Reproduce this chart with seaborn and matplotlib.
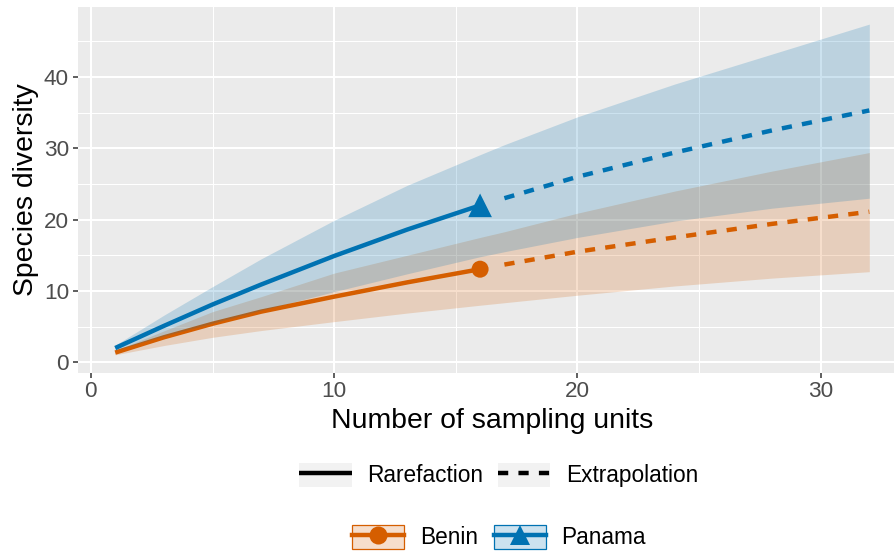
import matplotlib
matplotlib.use("Agg")
import matplotlib.pyplot as plt
import numpy as np
import pandas as pd
import seaborn as sns
from matplotlib.lines import Line2D
from matplotlib.patches import Patch
from matplotlib.legend_handler import HandlerTuple
from matplotlib.colors import to_rgba

# ---------------- data ----------------
assemblages = ["Benin", "Panama"]
methods = ["Rarefaction", "Extrapolation"]

x_rare = [1, 3, 5, 7, 10, 13, 16]
x_extra = [17, 20, 24, 28, 32]

benin_rare = [1.36, 3.5, 5.4, 7.1, 9.2, 11.2, 13.05]
benin_extra = [13.7, 15.5, 17.5, 19.4, 21.1]
panama_rare = [2.0, 5.1, 8.1, 10.9, 14.9, 18.6, 22.0]
panama_extra = [23.0, 26.0, 29.4, 32.5, 35.3]

x_band = [1, 3, 5, 7, 10, 13, 16, 17, 20, 24, 28, 32]
benin_lo = [1.05, 2.35, 3.5, 4.45, 5.7, 6.9, 8.0, 8.35, 9.4, 10.7, 11.8, 12.7]
benin_hi = [1.65, 4.4, 7.1, 9.2, 12.5, 15.0, 17.5, 18.3, 20.9, 24.0, 26.8, 29.4]
panama_lo = [1.7, 3.7, 5.5, 7.3, 9.9, 12.4, 14.8, 15.5, 17.5, 19.8, 21.6, 23.0]
panama_hi = [2.4, 6.6, 10.6, 14.5, 19.9, 24.8, 29.1, 30.5, 34.4, 39.0, 43.2, 47.4]

obs_size = [16, 16]
obs_div = [13.05, 22.0]

x_ticks = [0, 10, 20, 30]
y_ticks = [0, 10, 20, 30, 40]

# ---------------- styling ----------------
colors = {"Benin": "#D55E00", "Panama": "#0072B2"}
markers = {"Benin": "o", "Panama": "^"}
DASH = (2.3, 2.3)
LW = 3.2

plt.rcParams["font.family"] = ["Liberation Sans", "DejaVu Sans"]

# ---------------- tables ----------------
curve_rows = []
for a, r, e in [("Benin", benin_rare, benin_extra), ("Panama", panama_rare, panama_extra)]:
    for x, y in zip(x_rare, r):
        curve_rows.append({"Assemblage": a, "Method": "Rarefaction", "m": x, "qD": y})
    for x, y in zip(x_extra, e):
        curve_rows.append({"Assemblage": a, "Method": "Extrapolation", "m": x, "qD": y})
curves = pd.DataFrame(curve_rows)

band = pd.DataFrame({
    "m": x_band * 2,
    "lo": benin_lo + panama_lo,
    "hi": benin_hi + panama_hi,
    "Assemblage": ["Benin"] * len(x_band) + ["Panama"] * len(x_band),
})
obs = pd.DataFrame({"Assemblage": assemblages, "m": obs_size, "qD": obs_div})

# ---------------- figure ----------------
W, H = 895, 552
fig = plt.figure(figsize=(W / 100, H / 100), dpi=100)
ax = fig.add_axes([77.5 / W, (H - 373) / H, (907 - 77.5) / W, 366 / H])
ax.set_facecolor("#EBEBEB")
for s in ax.spines.values():
    s.set_visible(False)

ax.set_xlim(-0.55, 33.55)
ax.set_ylim(-1.5, 49.8)
ax.xaxis.set_major_locator(matplotlib.ticker.FixedLocator(x_ticks))
ax.yaxis.set_major_locator(matplotlib.ticker.FixedLocator(y_ticks))
ax.xaxis.set_minor_locator(matplotlib.ticker.FixedLocator([5, 15, 25]))
ax.yaxis.set_minor_locator(matplotlib.ticker.FixedLocator([5, 15, 25, 35, 45]))
ax.grid(which="major", color="white", linewidth=1.5, zorder=0)
ax.grid(which="minor", color="white", linewidth=0.75, zorder=0)
ax.set_axisbelow(True)
ax.tick_params(which="major", length=3.9, width=1.1, color="#333333",
               labelcolor="#4D4D4D", labelsize=16.2, pad=2.2)
ax.tick_params(which="minor", length=0)

sns.lineplot(data=curves, x="m", y="qD", hue="Assemblage", style="Method",
             palette=colors, dashes={"Rarefaction": "", "Extrapolation": DASH},
             linewidth=LW, estimator=None, legend=False, ax=ax, zorder=3)
for ln in ax.lines:
    ln.set_dash_capstyle("butt")
    ln.set_solid_capstyle("butt")

sns.scatterplot(data=obs, x="m", y="qD", hue="Assemblage", style="Assemblage",
                palette=colors, markers=markers, s=150, linewidth=0,
                legend=False, ax=ax, zorder=4)
coll = ax.collections[-1]
coll.set_sizes([150, 290])

for a in assemblages:
    sub = band[band["Assemblage"] == a]
    ax.fill_between(sub["m"], sub["lo"], sub["hi"], color=colors[a],
                    alpha=0.2, linewidth=0, zorder=5)

ax.set_xlabel("Number of sampling units", fontsize=20.4, color="black")
ax.set_ylabel("Species diversity", fontsize=20.4, color="black")
ax.xaxis.set_label_coords(0.5, -0.096)
ax.yaxis.set_label_coords(-0.0464, 0.5)

# ---------------- legends ----------------
lt_handles = [
    (Patch(facecolor="#F2F2F2", edgecolor="none"),
     Line2D([], [], color="black", lw=LW, solid_capstyle="butt")),
    (Patch(facecolor="#F2F2F2", edgecolor="none"),
     Line2D([], [], color="black", lw=LW, dashes=DASH, dash_capstyle="butt")),
]
fig.legend(lt_handles, methods, handler_map={tuple: HandlerTuple(ndivide=1, pad=0)},
           loc="center", bbox_to_anchor=(499 / W, (H - 475) / H), ncol=2,
           frameon=False, fontsize=16.3, handlelength=2.3, handleheight=1.24,
           handletextpad=0.7, columnspacing=0.66, borderpad=0, borderaxespad=0)

as_handles = []
for a in assemblages:
    as_handles.append((
        Patch(facecolor=to_rgba(colors[a], 0.2), edgecolor=colors[a], linewidth=0.9),
        Line2D([], [], color=colors[a], lw=LW, marker=markers[a],
               markersize=13 if a == "Benin" else 14, markeredgewidth=0),
    ))
fig.legend(as_handles, assemblages, handler_map={tuple: HandlerTuple(ndivide=1, pad=0)},
           loc="center", bbox_to_anchor=(499 / W, (H - 537) / H), ncol=2,
           frameon=False, fontsize=16.3, handlelength=2.3, handleheight=1.24,
           handletextpad=0.7, columnspacing=0.7, borderpad=0, borderaxespad=0,
           numpoints=1)

fig.savefig("out.png", dpi=100, facecolor="white")
